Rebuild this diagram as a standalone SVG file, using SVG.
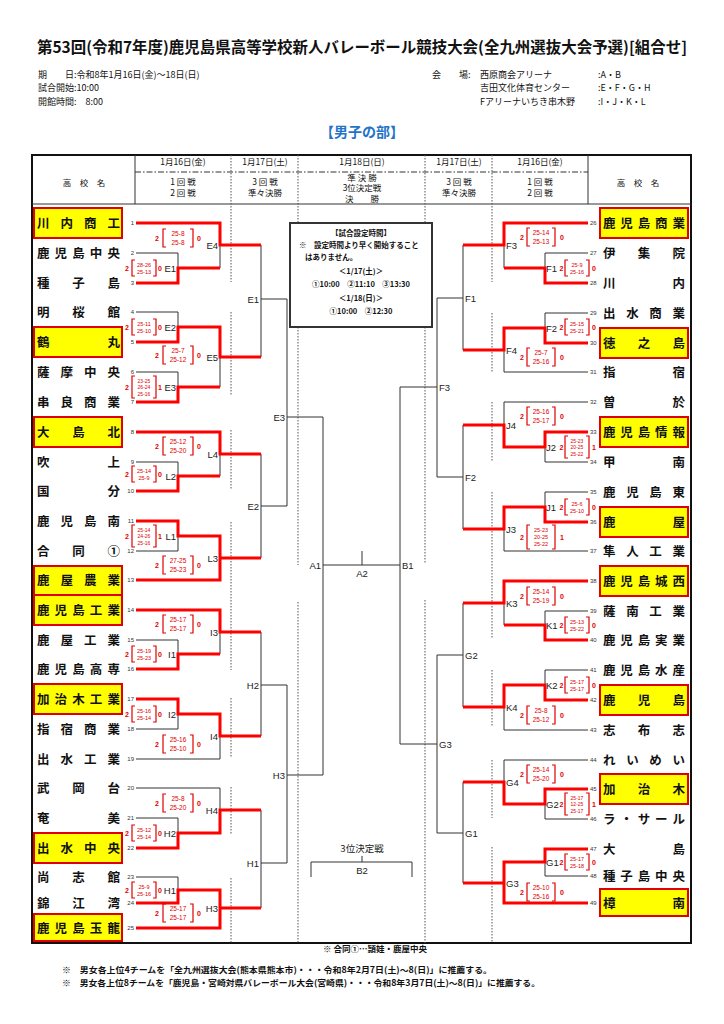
<svg xmlns="http://www.w3.org/2000/svg" width="724" height="1024" viewBox="0 0 724 1024">
<style>
text{font-family:"Noto Sans CJK JP","Liberation Sans",sans-serif;fill:#111}
.t{font-weight:bold;font-size:15.5px}
.i{font-size:9px}
.hd{font-size:8.5px;text-anchor:middle}
.nm{font-size:12.5px;font-weight:bold}
.no{font-size:6px;font-family:"Liberation Sans",sans-serif;fill:#333}
.ne{text-anchor:end}
.lb{font-size:9.5px;font-family:"Liberation Sans",sans-serif;fill:#222}
.le{text-anchor:end}
.lm{text-anchor:middle}
.sw{font-size:7px;font-weight:bold;fill:#e00000;text-anchor:middle;font-family:"Liberation Sans",sans-serif}
.s2{font-size:6.5px;fill:#e00000;text-anchor:middle;font-family:"Liberation Sans",sans-serif}
.s3{font-size:5.5px;fill:#e00000;text-anchor:middle;font-family:"Liberation Sans",sans-serif}
.s1{font-size:5.5px;fill:#e00000;text-anchor:middle;font-family:"Liberation Sans",sans-serif}
.s1b{font-size:5px;fill:#e00000;text-anchor:middle;font-family:"Liberation Sans",sans-serif}
.br{fill:none;stroke:#e00000;stroke-width:1.2}
.k{fill:none;stroke:#333;stroke-width:1}
.r{fill:none;stroke:#ff0000;stroke-width:3;stroke-linejoin:miter}
.dt{fill:none;stroke:#555;stroke-width:1;stroke-dasharray:1.5 1.5}
.hl{fill:#ffff00;stroke:#e00000;stroke-width:2}
.bx{font-size:7.5px;font-weight:bold}
.bf{font-size:8.5px;font-weight:bold}
</style>

<!-- header -->
<text class="t" x="37" y="53" textLength="650" lengthAdjust="spacingAndGlyphs">第53回(令和7年度)鹿児島県高等学校新人バレーボール競技大会(全九州選抜大会予選)[組合せ]</text>
<text class="i" x="38" y="78">期　　日:令和8年1月16日(金)～18日(日)</text>
<text class="i" x="38" y="91">試合開始:10:00</text>
<text class="i" x="38" y="105">開館時間:　8:00</text>
<text class="i" x="432" y="78">会　　場:</text>
<text class="i" x="480" y="78">西原商会アリーナ</text>
<text class="i" x="480" y="91">吉田文化体育センター</text>
<text class="i" x="480" y="105">Fアリーナいちき串木野</text>
<text class="i" x="598" y="78">:A・B</text>
<text class="i" x="598" y="91">:E・F・G・H</text>
<text class="i" x="598" y="105">:I・J・K・L</text>
<text x="362" y="137" style="font-size:14px;font-weight:bold;fill:#1f74c8;text-anchor:middle">【男子の部】</text>

<!-- table frame -->
<g id="table">
<rect x="32" y="155" width="659" height="788" fill="none" stroke="#111" stroke-width="2"/>
<path class="k" d="M32 204H691M135 155V204M588 155V204"/>
<path d="M135 172H588" fill="none" stroke="#333" stroke-width="1" stroke-dasharray="6 2 1.5 2"/>
<path class="dt" d="M231 155V282M231 312V395M231 430V490M231 522V670M231 698V758M231 787V835M231 878V943"/>
<path class="dt" d="M298 155V223M298 327V565M298 602V943"/>
<path class="dt" d="M425 155V223M425 327V563M425 600V943"/>
<path class="dt" d="M492 155V282M492 313V372M492 402V462M492 492V638M492 670V727M492 760V818M492 847V943"/>
<text class="hd" x="84" y="186">高　校　名</text>
<text class="hd" x="638" y="186">高　校　名</text>
<text class="hd" x="183" y="165">1月16日(金)</text>
<text class="hd" x="265" y="165">1月17日(土)</text>
<text class="hd" x="362" y="165">1月18日(日)</text>
<text class="hd" x="459" y="165">1月17日(土)</text>
<text class="hd" x="540" y="165">1月16日(金)</text>
<text class="hd" x="183" y="185">1 回 戦</text>
<text class="hd" x="183" y="196">2 回 戦</text>
<text class="hd" x="265" y="185">3 回 戦</text>
<text class="hd" x="265" y="196">準々決勝</text>
<text class="hd" x="362" y="181">準 決 勝</text>
<text class="hd" x="362" y="191">3位決定戦</text>
<text class="hd" x="362" y="202">決　　勝</text>
<text class="hd" x="459" y="185">3 回 戦</text>
<text class="hd" x="459" y="196">準々決勝</text>
<text class="hd" x="540" y="185">1 回 戦</text>
<text class="hd" x="540" y="196">2 回 戦</text>
</g>

<!-- connectors -->
<g id="connectors">
<path class="k" d="M136 253H178V268M220 245V268M261 245V357M261 299H287M136 312H178V327M136 372H178V387M220 357V387M287 299V506M287 417H323"/>
<path class="k" d="M136 462H178V476M220 454V476M178 536V551H136M261 454V558M261 506H287"/>
<path class="k" d="M136 640H178V654M220 632V654M178 714V729H136M136 759H220V736M261 632V736M261 685H287"/>
<path class="k" d="M136 788H220V810M136 818H178V833M136 877H178V890M261 810V908M261 863H287M287 685V863M287 775H323"/>
<path class="k" d="M323 417V775M323 565H400M362 551V565M400 387V744M311 877V862H412V877M362 856V862"/>
<path class="k" d="M588 253H545V268M504 245V268M588 313H545V328M588 372H504V350M463 245V350M463 298H437"/>
<path class="k" d="M588 402H504V425M545 447V462H588M588 492H545V507M504 529V551H588M463 425V529M463 477H437M437 298V477M437 387H400"/>
<path class="k" d="M588 611H545V625M504 603V625M588 670H545V685M504 707V730H588M463 603V707M463 655H437"/>
<path class="k" d="M588 760H504V782M545 804V819H588M545 862V876H588M463 782V883M463 833H437M437 655V833M437 744H400"/>
<path class="r" d="M136 223H220V245H261M136 283H178V268H220M136 342H178V327H220V357H261M136 402H178V387H220"/>
<path class="r" d="M136 432H220V454H261M136 491H178V476H220M136 521H178V536H220V580H136M220 558H261"/>
<path class="r" d="M136 610H220V632H261M136 669H178V654H220M136 699H178V714H220V736H261"/>
<path class="r" d="M136 848H178V833H220V810H261M136 903H178V890H220V928H136M220 908H261"/>
<path class="r" d="M588 223H504V245H463M588 283H545V268H504M588 343H545V328H504V350H463"/>
<path class="r" d="M588 432H545V447H504V425H463M588 522H545V507H504V529H463"/>
<path class="r" d="M588 581H504V603H463M588 640H545V625H504M588 700H545V685H504V707H463"/>
<path class="r" d="M588 789H545V804H504V782H463M588 849H545V862H504V903H588M504 883H463"/>
</g>

<!-- left schools -->
<g id="school-1"><rect class="hl" x="34" y="208" width="88" height="30"/><text class="nm" x="37" y="227.5" textLength="83" lengthAdjust="spacing">川内商工</text><text class="no ne" x="134" y="225">1</text></g>
<g id="school-2"><text class="nm" x="37" y="257.5" textLength="83" lengthAdjust="spacing">鹿児島中央</text><text class="no ne" x="134" y="255">2</text></g>
<g id="school-3"><text class="nm" x="37" y="287.5" textLength="83" lengthAdjust="spacing">種子島</text><text class="no ne" x="134" y="285">3</text></g>
<g id="school-4"><text class="nm" x="37" y="316.5" textLength="83" lengthAdjust="spacing">明桜館</text><text class="no ne" x="134" y="314">4</text></g>
<g id="school-5"><rect class="hl" x="34" y="327" width="88" height="30"/><text class="nm" x="37" y="346.5" textLength="83" lengthAdjust="spacing">鶴丸</text><text class="no ne" x="134" y="344">5</text></g>
<g id="school-6"><text class="nm" x="37" y="376.5" textLength="83" lengthAdjust="spacing">薩摩中央</text><text class="no ne" x="134" y="374">6</text></g>
<g id="school-7"><text class="nm" x="37" y="406.5" textLength="83" lengthAdjust="spacing">串良商業</text><text class="no ne" x="134" y="404">7</text></g>
<g id="school-8"><rect class="hl" x="34" y="417" width="88" height="30"/><text class="nm" x="37" y="436.5" textLength="83" lengthAdjust="spacing">大島北</text><text class="no ne" x="134" y="434">8</text></g>
<g id="school-9"><text class="nm" x="37" y="466.5" textLength="83" lengthAdjust="spacing">吹上</text><text class="no ne" x="134" y="464">9</text></g>
<g id="school-10"><text class="nm" x="37" y="495.5" textLength="83" lengthAdjust="spacing">国分</text><text class="no ne" x="134" y="493">10</text></g>
<g id="school-11"><text class="nm" x="37" y="525.5" textLength="83" lengthAdjust="spacing">鹿児島南</text><text class="no ne" x="134" y="523">11</text></g>
<g id="school-12"><text class="nm" x="37" y="555.5" textLength="83" lengthAdjust="spacing">合同①</text><text class="no ne" x="134" y="553">12</text></g>
<g id="school-13"><rect class="hl" x="34" y="566" width="88" height="29"/><text class="nm" x="37" y="584.5" textLength="83" lengthAdjust="spacing">鹿屋農業</text><text class="no ne" x="134" y="582">13</text></g>
<g id="school-14"><rect class="hl" x="34" y="595" width="88" height="30"/><text class="nm" x="37" y="614.5" textLength="83" lengthAdjust="spacing">鹿児島工業</text><text class="no ne" x="134" y="612">14</text></g>
<g id="school-15"><text class="nm" x="37" y="644.5" textLength="83" lengthAdjust="spacing">鹿屋工業</text><text class="no ne" x="134" y="642">15</text></g>
<g id="school-16"><text class="nm" x="37" y="673.5" textLength="83" lengthAdjust="spacing">鹿児島高専</text><text class="no ne" x="134" y="671">16</text></g>
<g id="school-17"><rect class="hl" x="34" y="684" width="88" height="30"/><text class="nm" x="37" y="703.5" textLength="83" lengthAdjust="spacing">加治木工業</text><text class="no ne" x="134" y="701">17</text></g>
<g id="school-18"><text class="nm" x="37" y="733.5" textLength="83" lengthAdjust="spacing">指宿商業</text><text class="no ne" x="134" y="731">18</text></g>
<g id="school-19"><text class="nm" x="37" y="763.5" textLength="83" lengthAdjust="spacing">出水工業</text><text class="no ne" x="134" y="761">19</text></g>
<g id="school-20"><text class="nm" x="37" y="792.5" textLength="83" lengthAdjust="spacing">武岡台</text><text class="no ne" x="134" y="790">20</text></g>
<g id="school-21"><text class="nm" x="37" y="822.5" textLength="83" lengthAdjust="spacing">奄美</text><text class="no ne" x="134" y="820">21</text></g>
<g id="school-22"><rect class="hl" x="34" y="833" width="88" height="30"/><text class="nm" x="37" y="852.5" textLength="83" lengthAdjust="spacing">出水中央</text><text class="no ne" x="134" y="850">22</text></g>
<g id="school-23"><text class="nm" x="37" y="881.5" textLength="83" lengthAdjust="spacing">尚志館</text><text class="no ne" x="134" y="879">23</text></g>
<g id="school-24"><text class="nm" x="37" y="907.5" textLength="83" lengthAdjust="spacing">錦江湾</text><text class="no ne" x="134" y="905">24</text></g>
<g id="school-25"><rect class="hl" x="34" y="914" width="88" height="27"/><text class="nm" x="37" y="932.5" textLength="83" lengthAdjust="spacing">鹿児島玉龍</text><text class="no ne" x="134" y="930">25</text></g>

<!-- right schools -->
<g id="school-26"><rect class="hl" x="600" y="208" width="88" height="30"/><text class="nm" x="603" y="227.5" textLength="82" lengthAdjust="spacing">鹿児島商業</text><text class="no" x="590" y="225">26</text></g>
<g id="school-27"><text class="nm" x="603" y="257.5" textLength="82" lengthAdjust="spacing">伊集院</text><text class="no" x="590" y="255">27</text></g>
<g id="school-28"><text class="nm" x="603" y="287.5" textLength="82" lengthAdjust="spacing">川内</text><text class="no" x="590" y="285">28</text></g>
<g id="school-29"><text class="nm" x="603" y="317.5" textLength="82" lengthAdjust="spacing">出水商業</text><text class="no" x="590" y="315">29</text></g>
<g id="school-30"><rect class="hl" x="600" y="328" width="88" height="30"/><text class="nm" x="603" y="347.5" textLength="82" lengthAdjust="spacing">徳之島</text><text class="no" x="590" y="345">30</text></g>
<g id="school-31"><text class="nm" x="603" y="376.5" textLength="82" lengthAdjust="spacing">指宿</text><text class="no" x="590" y="374">31</text></g>
<g id="school-32"><text class="nm" x="603" y="406.5" textLength="82" lengthAdjust="spacing">曽於</text><text class="no" x="590" y="404">32</text></g>
<g id="school-33"><rect class="hl" x="600" y="417" width="88" height="30"/><text class="nm" x="603" y="436.5" textLength="82" lengthAdjust="spacing">鹿児島情報</text><text class="no" x="590" y="434">33</text></g>
<g id="school-34"><text class="nm" x="603" y="466.5" textLength="82" lengthAdjust="spacing">甲南</text><text class="no" x="590" y="464">34</text></g>
<g id="school-35"><text class="nm" x="603" y="496.5" textLength="82" lengthAdjust="spacing">鹿児島東</text><text class="no" x="590" y="494">35</text></g>
<g id="school-36"><rect class="hl" x="600" y="507" width="88" height="30"/><text class="nm" x="603" y="526.5" textLength="82" lengthAdjust="spacing">鹿屋</text><text class="no" x="590" y="524">36</text></g>
<g id="school-37"><text class="nm" x="603" y="555.5" textLength="82" lengthAdjust="spacing">隼人工業</text><text class="no" x="590" y="553">37</text></g>
<g id="school-38"><rect class="hl" x="600" y="566" width="88" height="30"/><text class="nm" x="603" y="585.5" textLength="82" lengthAdjust="spacing">鹿児島城西</text><text class="no" x="590" y="583">38</text></g>
<g id="school-39"><text class="nm" x="603" y="615.5" textLength="82" lengthAdjust="spacing">薩南工業</text><text class="no" x="590" y="613">39</text></g>
<g id="school-40"><text class="nm" x="603" y="644.5" textLength="82" lengthAdjust="spacing">鹿児島実業</text><text class="no" x="590" y="642">40</text></g>
<g id="school-41"><text class="nm" x="603" y="674.5" textLength="82" lengthAdjust="spacing">鹿児島水産</text><text class="no" x="590" y="672">41</text></g>
<g id="school-42"><rect class="hl" x="600" y="685" width="88" height="30"/><text class="nm" x="603" y="704.5" textLength="82" lengthAdjust="spacing">鹿児島</text><text class="no" x="590" y="702">42</text></g>
<g id="school-43"><text class="nm" x="603" y="734.5" textLength="82" lengthAdjust="spacing">志布志</text><text class="no" x="590" y="732">43</text></g>
<g id="school-44"><text class="nm" x="603" y="764.5" textLength="82" lengthAdjust="spacing">れいめい</text><text class="no" x="590" y="762">44</text></g>
<g id="school-45"><rect class="hl" x="600" y="774" width="88" height="30"/><text class="nm" x="603" y="793.5" textLength="82" lengthAdjust="spacing">加治木</text><text class="no" x="590" y="791">45</text></g>
<g id="school-46"><text class="nm" x="603" y="823.5" textLength="82" lengthAdjust="spacing">ラ・サール</text><text class="no" x="590" y="821">46</text></g>
<g id="school-47"><text class="nm" x="603" y="853.5" textLength="82" lengthAdjust="spacing">大島</text><text class="no" x="590" y="851">47</text></g>
<g id="school-48"><text class="nm" x="603" y="880.5" textLength="82" lengthAdjust="spacing">種子島中央</text><text class="no" x="590" y="878">48</text></g>
<g id="school-49"><rect class="hl" x="600" y="889" width="88" height="27"/><text class="nm" x="603" y="907.5" textLength="82" lengthAdjust="spacing">樟南</text><text class="no" x="590" y="905">49</text></g>

<!-- match labels -->
<g id="labels">
<text class="lb le" x="176" y="271.5">E1</text>
<text class="lb le" x="176" y="330.5">E2</text>
<text class="lb le" x="176" y="390.5">E3</text>
<text class="lb le" x="176" y="479.5">L2</text>
<text class="lb le" x="176" y="539.5">L1</text>
<text class="lb le" x="176" y="657.5">I1</text>
<text class="lb le" x="176" y="717.5">I2</text>
<text class="lb le" x="176" y="836.5">H2</text>
<text class="lb le" x="176" y="893.5">H1</text>
<text class="lb le" x="218" y="248.5">E4</text>
<text class="lb le" x="218" y="360.5">E5</text>
<text class="lb le" x="218" y="457.5">L4</text>
<text class="lb le" x="218" y="561.5">L3</text>
<text class="lb le" x="218" y="635.5">I3</text>
<text class="lb le" x="218" y="739.5">I4</text>
<text class="lb le" x="218" y="813.5">H4</text>
<text class="lb le" x="218" y="911.5">H3</text>
<text class="lb le" x="259" y="302.5">E1</text>
<text class="lb le" x="259" y="509.5">E2</text>
<text class="lb le" x="259" y="688.5">H2</text>
<text class="lb le" x="259" y="866.5">H1</text>
<text class="lb le" x="285" y="420.5">E3</text>
<text class="lb le" x="285" y="778.5">H3</text>
<text class="lb le" x="321" y="568.5">A1</text>
<text class="lb lm" x="362" y="577">A2</text>
<text class="lb" x="402" y="568.5">B1</text>
<text class="lb" x="546" y="271.5">F1</text>
<text class="lb" x="546" y="331.5">F2</text>
<text class="lb" x="546" y="450.5">J2</text>
<text class="lb" x="546" y="510.5">J1</text>
<text class="lb" x="546" y="628.5">K1</text>
<text class="lb" x="546" y="688.5">K2</text>
<text class="lb" x="546" y="807.5">G2</text>
<text class="lb" x="546" y="865.5">G1</text>
<text class="lb" x="506" y="248.5">F3</text>
<text class="lb" x="506" y="353.5">F4</text>
<text class="lb" x="506" y="428.5">J4</text>
<text class="lb" x="506" y="532.5">J3</text>
<text class="lb" x="506" y="606.5">K3</text>
<text class="lb" x="506" y="710.5">K4</text>
<text class="lb" x="506" y="785.5">G4</text>
<text class="lb" x="506" y="886.5">G3</text>
<text class="lb" x="465" y="301.5">F1</text>
<text class="lb" x="465" y="480.5">F2</text>
<text class="lb" x="465" y="658.5">G2</text>
<text class="lb" x="465" y="836.5">G1</text>
<text class="lb" x="439" y="390.5">F3</text>
<text class="lb" x="439" y="747.5">G3</text>
<text class="lb lm" x="362" y="852" style="font-family:'Noto Sans CJK JP',sans-serif;font-size:9.5px">3位決定戦</text>
<text class="lb lm" x="362" y="874">B2</text>
</g>

<g id="scores">
<g><text class="sw" x="157" y="241">2</text><path class="br" d="M166 229H163V247H166M190 229H193V247H190"/><text class="s2" x="178" y="236">25-8</text><text class="s2" x="178" y="244.5">25-8</text><text class="sw" x="199" y="241">0</text></g>
<g><text class="sw" x="157" y="358">2</text><path class="br" d="M166 346H163V364H166M190 346H193V364H190"/><text class="s2" x="178" y="353">25-7</text><text class="s2" x="178" y="361.5">25-12</text><text class="sw" x="199" y="358">0</text></g>
<g><text class="sw" x="157" y="449">2</text><path class="br" d="M166 437H163V455H166M190 437H193V455H190"/><text class="s2" x="178" y="444">25-12</text><text class="s2" x="178" y="452.5">25-20</text><text class="sw" x="199" y="449">0</text></g>
<g><text class="sw" x="157" y="568">2</text><path class="br" d="M166 556H163V574H166M190 556H193V574H190"/><text class="s2" x="178" y="563">27-25</text><text class="s2" x="178" y="571.5">25-23</text><text class="sw" x="199" y="568">0</text></g>
<g><text class="sw" x="157" y="627">2</text><path class="br" d="M166 615H163V633H166M190 615H193V633H190"/><text class="s2" x="178" y="622">25-17</text><text class="s2" x="178" y="630.5">25-17</text><text class="sw" x="199" y="627">0</text></g>
<g><text class="sw" x="157" y="747">2</text><path class="br" d="M166 735H163V753H166M190 735H193V753H190"/><text class="s2" x="178" y="742">25-16</text><text class="s2" x="178" y="750.5">25-10</text><text class="sw" x="199" y="747">0</text></g>
<g><text class="sw" x="157" y="806">2</text><path class="br" d="M166 794H163V812H166M190 794H193V812H190"/><text class="s2" x="178" y="801">25-8</text><text class="s2" x="178" y="809.5">25-20</text><text class="sw" x="199" y="806">0</text></g>
<g><text class="sw" x="157" y="916">2</text><path class="br" d="M166 904H163V922H166M190 904H193V922H190"/><text class="s2" x="178" y="911">25-17</text><text class="s2" x="178" y="919.5">25-17</text><text class="sw" x="199" y="916">0</text></g>

<g><text class="sw" x="127" y="270.5">2</text><path class="br" d="M135 260H132V276H135M153 260H156V276H153"/><text class="s1" x="144" y="266.5">28-26</text><text class="s1" x="144" y="274">25-13</text><text class="sw" x="160" y="270.5">0</text></g>
<g><text class="sw" x="127" y="329.5">2</text><path class="br" d="M135 319H132V335H135M153 319H156V335H153"/><text class="s1" x="144" y="325.5">25-11</text><text class="s1" x="144" y="333">25-10</text><text class="sw" x="160" y="329.5">0</text></g>
<g><text class="sw" x="127" y="389.5">2</text><path class="br" d="M135 376H132V398H135M153 376H156V398H153"/><text class="s1b" x="144" y="382.5">23-25</text><text class="s1b" x="144" y="389">26-24</text><text class="s1b" x="144" y="395.5">25-16</text><text class="sw" x="160" y="389.5">1</text></g>
<g><text class="sw" x="127" y="476.5">2</text><path class="br" d="M135 466H132V482H135M153 466H156V482H153"/><text class="s1" x="144" y="472.5">25-14</text><text class="s1" x="144" y="480">25-9</text><text class="sw" x="160" y="476.5">0</text></g>
<g><text class="sw" x="127" y="538.5">2</text><path class="br" d="M135 525H132V547H135M153 525H156V547H153"/><text class="s1b" x="144" y="531.5">25-14</text><text class="s1b" x="144" y="538">24-26</text><text class="s1b" x="144" y="544.5">25-16</text><text class="sw" x="160" y="538.5">1</text></g>
<g><text class="sw" x="127" y="656.5">2</text><path class="br" d="M135 646H132V662H135M153 646H156V662H153"/><text class="s1" x="144" y="652.5">25-19</text><text class="s1" x="144" y="660">25-23</text><text class="sw" x="160" y="656.5">0</text></g>
<g><text class="sw" x="127" y="716.5">2</text><path class="br" d="M135 706H132V722H135M153 706H156V722H153"/><text class="s1" x="144" y="712.5">25-16</text><text class="s1" x="144" y="720">25-14</text><text class="sw" x="160" y="716.5">0</text></g>
<g><text class="sw" x="127" y="835.5">2</text><path class="br" d="M135 825H132V841H135M153 825H156V841H153"/><text class="s1" x="144" y="831.5">25-12</text><text class="s1" x="144" y="839">25-14</text><text class="sw" x="160" y="835.5">0</text></g>
<g><text class="sw" x="127" y="892.5">2</text><path class="br" d="M135 882H132V898H135M153 882H156V898H153"/><text class="s1" x="144" y="888.5">25-9</text><text class="s1" x="144" y="896">25-16</text><text class="sw" x="160" y="892.5">0</text></g>

<g><text class="sw" x="561.5" y="270.5">2</text><path class="br" d="M568 260H565V276H568M586 260H589V276H586"/><text class="s1" x="577" y="266.5">25-9</text><text class="s1" x="577" y="274">25-16</text><text class="sw" x="594" y="270.5">0</text></g>
<g><text class="sw" x="561.5" y="329.5">2</text><path class="br" d="M568 319H565V335H568M586 319H589V335H586"/><text class="s1" x="577" y="325.5">25-15</text><text class="s1" x="577" y="333">25-21</text><text class="sw" x="594" y="329.5">0</text></g>
<g><text class="sw" x="561.5" y="449.5">2</text><path class="br" d="M568 436H565V458H568M586 436H589V458H586"/><text class="s1b" x="577" y="442.5">25-23</text><text class="s1b" x="577" y="449">20-25</text><text class="s1b" x="577" y="455.5">25-22</text><text class="sw" x="594" y="449.5">1</text></g>
<g><text class="sw" x="561.5" y="509.5">2</text><path class="br" d="M568 499H565V515H568M586 499H589V515H586"/><text class="s1" x="577" y="505.5">25-6</text><text class="s1" x="577" y="513">25-10</text><text class="sw" x="594" y="509.5">0</text></g>
<g><text class="sw" x="561.5" y="627.5">2</text><path class="br" d="M568 617H565V633H568M586 617H589V633H586"/><text class="s1" x="577" y="623.5">25-13</text><text class="s1" x="577" y="631">25-22</text><text class="sw" x="594" y="627.5">0</text></g>
<g><text class="sw" x="561.5" y="687.5">2</text><path class="br" d="M568 677H565V693H568M586 677H589V693H586"/><text class="s1" x="577" y="683.5">25-17</text><text class="s1" x="577" y="691">25-17</text><text class="sw" x="594" y="687.5">0</text></g>
<g><text class="sw" x="561.5" y="806.5">2</text><path class="br" d="M568 793H565V815H568M586 793H589V815H586"/><text class="s1b" x="577" y="799.5">25-17</text><text class="s1b" x="577" y="806">12-25</text><text class="s1b" x="577" y="812.5">25-17</text><text class="sw" x="594" y="806.5">1</text></g>
<g><text class="sw" x="561.5" y="864.5">2</text><path class="br" d="M568 854H565V870H568M586 854H589V870H586"/><text class="s1" x="577" y="860.5">25-17</text><text class="s1" x="577" y="868">25-18</text><text class="sw" x="594" y="864.5">0</text></g>

<g><text class="sw" x="522" y="240">2</text><path class="br" d="M530 228H527V246H530M552 228H555V246H552"/><text class="s2" x="541" y="235">25-14</text><text class="s2" x="541" y="243.5">25-13</text><text class="sw" x="562" y="240">0</text></g>
<g><text class="sw" x="522" y="360">2</text><path class="br" d="M530 348H527V366H530M552 348H555V366H552"/><text class="s2" x="541" y="355">25-7</text><text class="s2" x="541" y="363.5">25-16</text><text class="sw" x="562" y="360">0</text></g>
<g><text class="sw" x="522" y="419">2</text><path class="br" d="M530 407H527V425H530M552 407H555V425H552"/><text class="s2" x="541" y="414">25-16</text><text class="s2" x="541" y="422.5">25-17</text><text class="sw" x="562" y="419">0</text></g>
<g><text class="sw" x="522" y="540">2</text><path class="br" d="M530 525H527V549H530M552 525H555V549H552"/><text class="s3" x="541" y="532">25-23</text><text class="s3" x="541" y="539">20-25</text><text class="s3" x="541" y="546">25-22</text><text class="sw" x="562" y="540">1</text></g>
<g><text class="sw" x="522" y="599">2</text><path class="br" d="M530 587H527V605H530M552 587H555V605H552"/><text class="s2" x="541" y="594">25-14</text><text class="s2" x="541" y="602.5">25-19</text><text class="sw" x="562" y="599">0</text></g>
<g><text class="sw" x="522" y="718">2</text><path class="br" d="M530 706H527V724H530M552 706H555V724H552"/><text class="s2" x="541" y="713">25-8</text><text class="s2" x="541" y="721.5">25-12</text><text class="sw" x="562" y="718">0</text></g>
<g><text class="sw" x="522" y="777">2</text><path class="br" d="M530 765H527V783H530M552 765H555V783H552"/><text class="s2" x="541" y="772">25-14</text><text class="s2" x="541" y="780.5">25-20</text><text class="sw" x="562" y="777">0</text></g>
<g><text class="sw" x="522" y="895">2</text><path class="br" d="M530 883H527V901H530M552 883H555V901H552"/><text class="s2" x="541" y="890">25-10</text><text class="s2" x="541" y="898.5">25-16</text><text class="sw" x="562" y="895">0</text></g>
</g>

<!-- schedule box -->
<g id="schedule-box">
<rect x="290" y="223" width="142" height="104" fill="#fff" stroke="#333" stroke-width="2"/>
<text class="bx" x="361" y="236" text-anchor="middle">【試合設定時間】</text>
<text class="bx" x="299" y="248">※　設定時間より早く開始すること</text>
<text class="bx" x="305" y="260">はありません。</text>
<text class="bx" x="361" y="274" text-anchor="middle">＜1/17(土)＞</text>
<text class="bx" x="361" y="287" text-anchor="middle">①10:00　②11:10　③13:30</text>
<text class="bx" x="361" y="301" text-anchor="middle">＜1/18(日)＞</text>
<text class="bx" x="361" y="314" text-anchor="middle">①10:00　②12:30</text>
</g>

<!-- footer -->
<text class="bf" x="375" y="952" text-anchor="middle">※ 合同①…頴娃・鹿屋中央</text>
<text class="bf" x="62" y="973" textLength="430" lengthAdjust="spacingAndGlyphs">※　男女各上位4チームを「全九州選抜大会(熊本県熊本市)・・・令和8年2月7日(土)～8(日)」に推薦する。</text>
<text class="bf" x="62" y="986" textLength="478" lengthAdjust="spacingAndGlyphs">※　男女各上位8チームを「鹿児島・宮崎対県バレーボール大会(宮崎県)・・・令和8年3月7日(土)～8(日)」に推薦する。</text>
</svg>
